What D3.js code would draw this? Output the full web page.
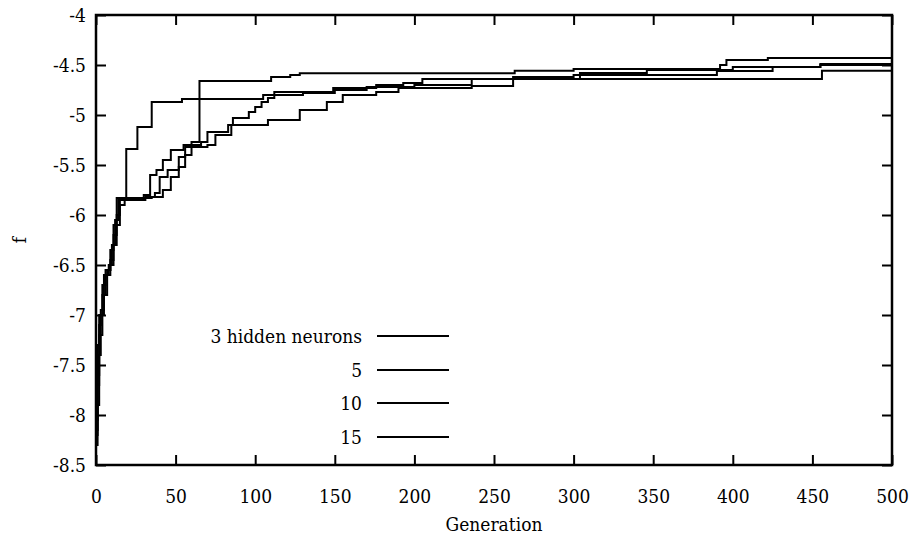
<!DOCTYPE html>
<html>
<head>
<meta charset="utf-8">
<script src="https://cdn.jsdelivr.net/npm/d3@7"></script>
<style>
  body { margin: 0; background: #fff; }
</style>
</head>
<body>
<div id="container"></div>
<script>
// generation, f  (step curves)
const hidden3 = [[0,-8.15],[1,-7.6],[2,-7.1],[3,-6.95],[5,-6.6],[7,-6.55],[9,-6.35],[11,-6.1],[13,-5.83],
  [19,-5.34],[26,-5.12],[35,-4.87],[54,-4.84],[105,-4.80],[112,-4.77],[149,-4.73],[176,-4.70],
  [193,-4.68],[205,-4.64],[456,-4.557],[500,-4.557]]
const hidden5 = [[0,-8.05],[1,-7.3],[2,-7.0],[4,-6.7],[6,-6.55],[9,-6.45],[11,-6.2],[13,-6.0],[15,-5.85],
  [20,-5.83],[30,-5.8],[34,-5.6],[38,-5.55],[42,-5.45],[47,-5.35],[55,-5.3],[60,-5.27],[65,-4.66],
  [110,-4.62],[122,-4.60],[128,-4.583],[263,-4.557],[300,-4.54],[392,-4.50],[396,-4.45],[422,-4.43],[500,-4.43]]
const hidden10 = [[0,-8.2],[1,-7.7],[2,-7.2],[4,-6.8],[6,-6.6],[8,-6.5],[10,-6.3],[12,-6.05],[14,-5.85],
  [31,-5.82],[37,-5.78],[40,-5.62],[45,-5.55],[52,-5.42],[56,-5.32],[60,-5.3],[66,-5.27],[70,-5.17],
  [83,-5.1],[86,-5.03],[96,-4.97],[100,-4.92],[104,-4.87],[108,-4.83],[112,-4.80],[130,-4.78],
  [150,-4.75],[170,-4.72],[200,-4.70],[236,-4.64],[304,-4.58],[346,-4.55],[400,-4.52],[455,-4.50],[500,-4.50]]
const hidden15 = [[0,-8.3],[1,-7.9],[2,-7.4],[3,-7.0],[5,-6.8],[7,-6.6],[9,-6.5],[11,-6.3],[13,-6.1],
  [15,-5.9],[18,-5.83],[35,-5.82],[42,-5.75],[47,-5.62],[52,-5.52],[56,-5.4],[60,-5.32],[70,-5.3],
  [75,-5.2],[85,-5.1],[108,-5.05],[128,-4.95],[145,-4.87],[155,-4.8],[176,-4.77],[190,-4.73],
  [236,-4.71],[262,-4.62],[300,-4.6],[390,-4.56],[425,-4.52],[455,-4.49],[500,-4.48]]

const seriesNames = ["3 hidden neurons","5","10","15"]
const series = [hidden3, hidden5, hidden10, hidden15]
const xTicks = [0,50,100,150,200,250,300,350,400,450,500]
const yTicks = [-4,-4.5,-5,-5.5,-6,-6.5,-7,-7.5,-8,-8.5]

const width = 917
const height = 535
const plotL = 96, plotR = 892, plotT = 15, plotB = 465

const xScale = d3.scaleLinear().domain([0,500]).range([plotL,plotR])
const yScale = d3.scaleLinear().domain([-8.5,-4]).range([plotB,plotT])

const svg = d3.select("#container").append("svg")
  .attr("width",width)
  .attr("height",height)

const fontSize = 19
const serif = "'DejaVu Serif', serif"

/* axes: ticks point inward on all four sides */
const xAxis = d3.axisBottom(xScale).tickValues(xTicks).tickSize(-10).tickPadding(25).tickFormat(d3.format("d"))
const yAxis = d3.axisLeft(yScale).tickValues(yTicks).tickSize(-10).tickPadding(10).tickFormat(d=>String(d))

svg.append("g").attr("transform",`translate(0,${plotB})`).call(xAxis)
svg.append("g").attr("transform",`translate(${plotL},0)`).call(yAxis)
svg.append("g").attr("transform",`translate(0,${plotT})`)
  .call(d3.axisTop(xScale).tickValues(xTicks).tickSize(-10).tickFormat(""))
svg.append("g").attr("transform",`translate(${plotR},0)`)
  .call(d3.axisRight(yScale).tickValues(yTicks).tickSize(-10).tickFormat(""))

svg.selectAll(".domain").remove()
svg.selectAll(".tick line").attr("stroke","#000").attr("stroke-width",2)

// frame
svg.append("rect")
  .attr("x",plotL).attr("y",plotT)
  .attr("width",plotR-plotL).attr("height",plotB-plotT)
  .attr("fill","none").attr("stroke","#000").attr("stroke-width",2.5)

// axis titles
svg.append("text")
  .attr("x",(plotL+plotR)/2).attr("y",531)
  .attr("text-anchor","middle")
  .text("Generation")

svg.append("text")
  .attr("transform",`translate(26,${(plotT+plotB)/2}) rotate(-90)`)
  .attr("text-anchor","middle")
  .text("f")

// curves
const line = d3.line()
  .x(d=>xScale(d[0]))
  .y(d=>yScale(d[1]))
  .curve(d3.curveStepAfter)

svg.append("g").selectAll("path")
  .data(series)
  .enter()
  .append("path")
  .attr("d",line)
  .attr("fill","none")
  .attr("stroke","#000")
  .attr("stroke-width",2)

/* legend */
const legendY = [336,370,403,437]
const legend = svg.append("g").selectAll("g")
  .data(seriesNames)
  .enter()
  .append("g")
  .attr("transform",(_,i)=>`translate(0,${legendY[i]})`)

legend.append("text")
  .attr("x",362).attr("y",0).attr("dy","0.35em")
  .attr("text-anchor","end")
  .text(d=>d)

legend.append("line")
  .attr("x1",377).attr("x2",449)
  .attr("y1",0).attr("y2",0)
  .attr("stroke","#000").attr("stroke-width",2)

svg.selectAll("text")
  .attr("font-family",null)
  .style("font-family",serif)
  .style("font-stretch","condensed")
  .style("font-size",fontSize+"px")
  .attr("fill","#000")
</script>
</body>
</html>
